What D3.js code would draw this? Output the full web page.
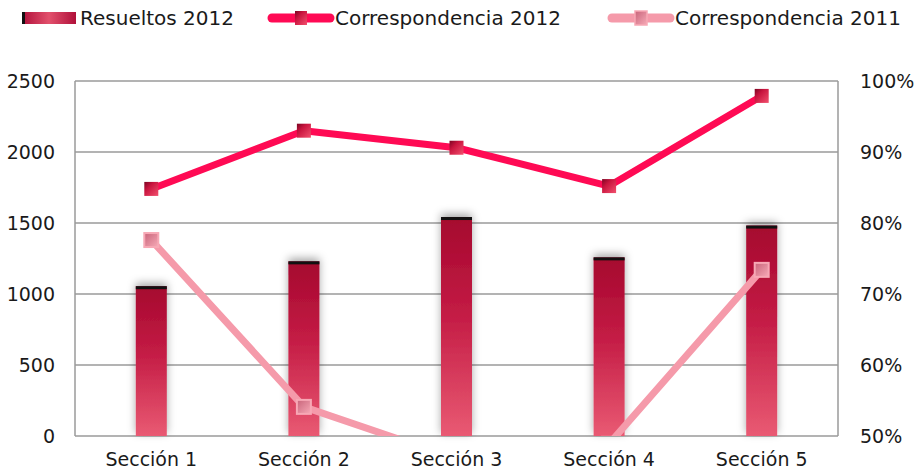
<!DOCTYPE html>
<html>
<head>
<meta charset="utf-8">
<script src="https://cdn.jsdelivr.net/npm/d3@7"></script>
<style>
  body { margin: 0; background: #fff; }
  svg text { font-family: "Century Gothic", "DejaVu Sans", sans-serif; fill: #1a1a1a; }
</style>
</head>
<body>
<div id="chart"></div>
<script>
const categories = ['Sección 1', 'Sección 2', 'Sección 3', 'Sección 4', 'Sección 5'];
const resueltos2012 = [1055, 1230, 1542, 1258, 1482];
const corresp2012 = [0.848, 0.930, 0.906, 0.852, 0.979];
const corresp2011 = [0.776, 0.541, 0.468, 0.489, 0.734];
const leftTicks = [0, 500, 1000, 1500, 2000, 2500];
const rightTicks = [0.5, 0.6, 0.7, 0.8, 0.9, 1.0];
const legendLabels = ['Resueltos 2012', 'Correspondencia 2012', 'Correspondencia 2011'];

const width = 914, height = 472;
const margin = {top: 81, right: 76, bottom: 36, left: 75};

const svg = d3.select('#chart').append('svg')
    .attr('width', width)
    .attr('height', height);

const defs = svg.append('defs');

const barGrad = defs.append('linearGradient')
    .attr('id', 'barGrad')
    .attr('x1', 0).attr('y1', 0).attr('x2', 0).attr('y2', 1);
barGrad.append('stop').attr('offset', '0%').attr('stop-color', '#a5072e');
barGrad.append('stop').attr('offset', '45%').attr('stop-color', '#c41c45');
barGrad.append('stop').attr('offset', '100%').attr('stop-color', '#e95a73');

const legBarGrad = defs.append('linearGradient')
    .attr('id', 'legBarGrad')
    .attr('x1', 0).attr('y1', 0).attr('x2', 1).attr('y2', 0);
legBarGrad.append('stop').attr('offset', '0%').attr('stop-color', '#b0103a');
legBarGrad.append('stop').attr('offset', '50%').attr('stop-color', '#e2506c');
legBarGrad.append('stop').attr('offset', '100%').attr('stop-color', '#b0103a');

const mark12 = defs.append('linearGradient')
    .attr('id', 'mark12')
    .attr('x1', 0).attr('y1', 0).attr('x2', 1).attr('y2', 1);
mark12.append('stop').attr('offset', '0%').attr('stop-color', '#7a0522');
mark12.append('stop').attr('offset', '35%').attr('stop-color', '#c8143e');
mark12.append('stop').attr('offset', '100%').attr('stop-color', '#f2506e');

const mark11 = defs.append('linearGradient')
    .attr('id', 'mark11')
    .attr('x1', 0).attr('y1', 0).attr('x2', 1).attr('y2', 1);
mark11.append('stop').attr('offset', '0%').attr('stop-color', '#c8647a');
mark11.append('stop').attr('offset', '100%').attr('stop-color', '#f7aab7');

const shadow = defs.append('filter')
    .attr('id', 'barShadow')
    .attr('x', '-60%').attr('y', '-20%').attr('width', '220%').attr('height', '140%');
shadow.append('feDropShadow')
    .attr('dx', 0).attr('dy', -3)
    .attr('stdDeviation', 4)
    .attr('flood-color', '#000')
    .attr('flood-opacity', 0.35);

const x = d3.scaleBand()
    .domain(categories)
    .range([margin.left, width - margin.right]);

const yL = d3.scaleLinear()
    .domain([0, 2500])
    .range([height - margin.bottom, margin.top]);

const yR = d3.scaleLinear()
    .domain([0.5, 1.0])
    .range([height - margin.bottom, margin.top]);

defs.append('clipPath').attr('id', 'plotClip')
    .append('rect')
    .attr('x', margin.left)
    .attr('y', margin.top - 10)
    .attr('width', width - margin.left - margin.right)
    .attr('height', height - margin.top - margin.bottom + 10);

// gridlines
svg.append('g')
    .selectAll('line')
    .data(leftTicks)
    .enter().append('line')
    .attr('x1', margin.left)
    .attr('x2', width - margin.right)
    .attr('y1', d => yL(d))
    .attr('y2', d => yL(d))
    .style('stroke', '#9a9a9a')
    .style('stroke-width', 1.5);

// left and right axis lines
svg.append('line')
    .attr('x1', margin.left).attr('x2', margin.left)
    .attr('y1', margin.top).attr('y2', yL(0))
    .style('stroke', '#9a9a9a').style('stroke-width', 1.5);
svg.append('line')
    .attr('x1', width - margin.right).attr('x2', width - margin.right)
    .attr('y1', margin.top).attr('y2', yL(0))
    .style('stroke', '#9a9a9a').style('stroke-width', 1.5);

// axis labels
const yAxisL = d3.axisLeft(yL).tickValues(leftTicks).tickSize(0).tickPadding(20)
    .tickFormat(d3.format('d'));
svg.append('g')
    .attr('transform', `translate(${margin.left},0)`)
    .call(yAxisL)
    .call(g => g.select('.domain').remove())
    .selectAll('text')
    .style('font-size', '19px');

const yAxisR = d3.axisRight(yR).tickValues(rightTicks).tickSize(0).tickPadding(22)
    .tickFormat(d3.format('.0%'));
svg.append('g')
    .attr('transform', `translate(${width - margin.right},0)`)
    .call(yAxisR)
    .call(g => g.select('.domain').remove())
    .selectAll('text')
    .style('font-size', '19px');

const xAxis = d3.axisBottom(x).tickSize(0).tickPadding(17);
svg.append('g')
    .attr('transform', `translate(0,${yL(0)})`)
    .call(xAxis)
    .call(g => g.select('.domain').remove())
    .selectAll('text')
    .style('font-size', '19px');

svg.selectAll('.tick text').style('fill', '#1a1a1a').style('font-family', '"Century Gothic", "DejaVu Sans", sans-serif');

// bars
const barWidth = 31;
const bars = svg.append('g')
    .selectAll('g')
    .data(resueltos2012)
    .enter().append('g');

bars.append('rect')
    .attr('x', (d, i) => x(categories[i]) + x.bandwidth() / 2 - barWidth / 2)
    .attr('y', d => yL(d))
    .attr('width', barWidth)
    .attr('height', d => yL(0) - yL(d))
    .style('fill', 'url(#barGrad)')
    .attr('filter', 'url(#barShadow)');

bars.append('rect')
    .attr('x', (d, i) => x(categories[i]) + x.bandwidth() / 2 - barWidth / 2)
    .attr('y', d => yL(d))
    .attr('width', barWidth)
    .attr('height', 3)
    .style('fill', '#111');

// lines
const lineGen = d3.line()
    .x((d, i) => x(categories[i]) + x.bandwidth() / 2)
    .y(d => yR(d));

const plot = svg.append('g').attr('clip-path', 'url(#plotClip)');

plot.append('path')
    .datum(corresp2012)
    .attr('d', lineGen)
    .style('fill', 'none')
    .style('stroke', '#ff0a54')
    .style('stroke-width', 7)
    .style('stroke-linejoin', 'round');

plot.append('path')
    .datum(corresp2011)
    .attr('d', lineGen)
    .style('fill', 'none')
    .style('stroke', '#f59aaa')
    .style('stroke-width', 7)
    .style('stroke-linejoin', 'round');

const mSize = 14;
plot.selectAll('.m12')
    .data(corresp2012)
    .enter().append('rect')
    .attr('class', 'm12')
    .attr('x', (d, i) => x(categories[i]) + x.bandwidth() / 2 - mSize / 2)
    .attr('y', d => yR(d) - mSize / 2)
    .attr('width', mSize)
    .attr('height', mSize)
    .style('fill', 'url(#mark12)');

plot.selectAll('.m11')
    .data(corresp2011)
    .enter().append('rect')
    .attr('class', 'm11')
    .attr('x', (d, i) => x(categories[i]) + x.bandwidth() / 2 - mSize / 2)
    .attr('y', d => yR(d) - mSize / 2)
    .attr('width', mSize)
    .attr('height', mSize)
    .style('fill', 'url(#mark11)')
    .style('stroke', '#f7a8b5')
    .style('stroke-width', 2);

// legend
const legend = svg.append('g');
const legY = 18;

legend.append('rect')
    .attr('x', 22).attr('y', legY - 6)
    .attr('width', 54).attr('height', 12)
    .style('fill', 'url(#legBarGrad)');
legend.append('rect')
    .attr('x', 22).attr('y', legY - 6)
    .attr('width', 3).attr('height', 12)
    .style('fill', '#111');
legend.append('text')
    .attr('x', 80).attr('y', legY)
    .attr('dy', '0.35em')
    .style('font-size', '20px')
    .text(legendLabels[0]);

const lineLegends = [
    {x: 272, color: '#ff0a54', mark: 'url(#mark12)', stroke: 'none', label: legendLabels[1]},
    {x: 612, color: '#f59aaa', mark: 'url(#mark11)', stroke: '#f7a8b5', label: legendLabels[2]}
];

lineLegends.forEach(l => {
    legend.append('line')
        .attr('x1', l.x).attr('x2', l.x + 58)
        .attr('y1', legY).attr('y2', legY)
        .style('stroke', l.color)
        .style('stroke-width', 9)
        .style('stroke-linecap', 'round');
    legend.append('rect')
        .attr('x', l.x + 23).attr('y', legY - 7)
        .attr('width', 12).attr('height', 14)
        .style('fill', l.mark)
        .style('stroke', l.stroke)
        .style('stroke-width', 1.5);
    legend.append('text')
        .attr('x', l.x + 63).attr('y', legY)
        .attr('dy', '0.35em')
        .style('font-size', '20px')
        .text(l.label);
});
</script>
</body>
</html>
